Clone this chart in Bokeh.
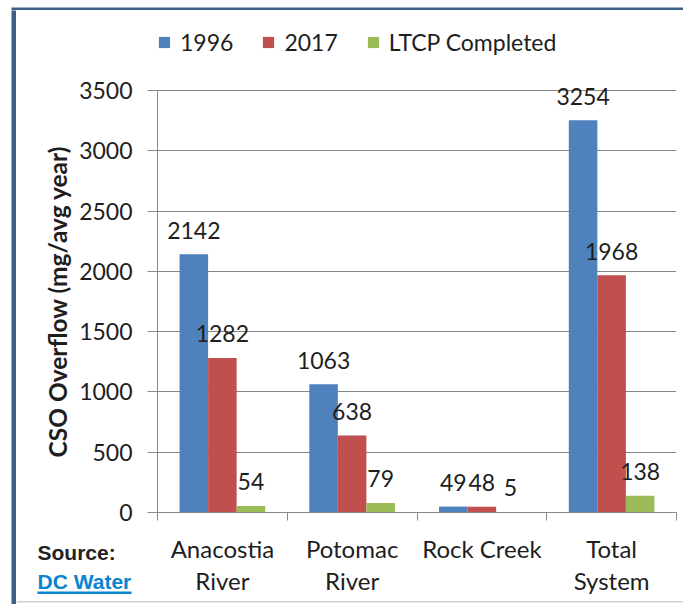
from bokeh.plotting import figure
from bokeh.models import (ColumnDataSource, LabelSet, Label, Range1d, FixedTicker,
                          Legend, LegendItem, BoxAnnotation, Spacer)
from bokeh.layouts import column, row
from bokeh.core.properties import value
from bokeh.embed import file_html
from bokeh.resources import INLINE
import math

# ---------------- data ----------------
categories = ["Anacostia River", "Potomac River", "Rock Creek", "Total System"]
cat_line1 = ["Anacostia", "Potomac", "Rock Creek", "Total"]
cat_line2 = ["River", "River", "", "System"]
series_names = ["1996", "2017", "LTCP Completed"]
v1996 = [2142, 1063, 49, 3254]
v2017 = [1282, 638, 48, 1968]
vltcp = [54, 79, 5, 138]
y_ticks = [0, 500, 1000, 1500, 2000, 2500, 3000, 3500]
y_title = "CSO Overflow (mg/avg year)"
source_label = "Source:"
source_name = "DC Water"

# ---------------- style / layout ----------------
colors = ["#4F81BD", "#C0504D", "#9BBB59"]
BORDER = "#3d5f86"
LINK = "#0a84cf"
FONT = "Lato"
TXT = "#1e1e1e"
PAGE_W, PAGE_H = 683, 604
TOP_H, MID_H = 10, 520
BOT_H = PAGE_H - TOP_H - MID_H
GAP_W, BAR_LW = 11, 5           # white gap, then blue left border
X_IN = GAP_W + BAR_LW           # 16: inner content starts here
L_W = 75 - X_IN                 # title strip
M_W = PAGE_W - 75
AX_X, FR_R = 157, 676           # y-axis line, frame right (page px)
Y0, Y_TOP = 512, 90             # page y of value 0 and of top tick
NCAT = len(categories)
YMAX = y_ticks[-1]
px_per_val = (Y0 - Y_TOP) / YMAX
px_per_cat = (FR_R - AX_X) / NCAT
BAR_W = 0.22
offsets = [-BAR_W, 0.0, BAR_W]
M_BOTTOM = TOP_H + MID_H - Y0   # space under the chart frame for the x ticks


def xd(sx):  # page px -> category data x
    return (sx - AX_X) / px_per_cat


def deco(w, h, x0, y0, xr=None):
    f = figure(width=w, height=h, output_backend="svg", toolbar_location=None,
               x_range=xr if xr is not None else Range1d(x0, x0 + w),
               y_range=Range1d(-(y0 + h), -y0), min_border=0,
               x_axis_type=None, y_axis_type=None)
    f.outline_line_color = None
    return f


# ---------------- top strip ----------------
T = deco(PAGE_W, TOP_H, 0, 0)
T.add_layout(BoxAnnotation(left=GAP_W, right=PAGE_W, top=-5, bottom=-9,
                           fill_color=BORDER, fill_alpha=1, line_color=None))

# ---------------- left border ----------------
LB = figure(width=BAR_LW, height=PAGE_H - TOP_H, output_backend="svg", toolbar_location=None,
            min_border=0, x_axis_type=None, y_axis_type=None,
            background_fill_color=BORDER, border_fill_color=BORDER)
LB.outline_line_color = None

# ---------------- title strip (frame aligned with the chart frame) ----------------
L = figure(width=L_W, height=MID_H, output_backend="svg", toolbar_location=None,
           x_range=Range1d(X_IN, 75), y_range=Range1d(-Y0, -TOP_H),
           min_border_left=0, min_border_right=0, min_border_top=0,
           min_border_bottom=M_BOTTOM, x_axis_type=None, y_axis_type=None)
L.outline_line_color = None
L.add_layout(Label(x=57, y=-301, text=y_title, angle=math.pi / 2,
                   text_align="center", text_baseline="middle", text_font=FONT,
                   text_font_style="bold", text_font_size="24.5px", text_color=TXT))

# ---------------- main chart ----------------
M = figure(width=M_W, height=MID_H, output_backend="svg", toolbar_location=None,
           x_range=Range1d(0, NCAT), y_range=Range1d(0, (Y0 - TOP_H) / px_per_val),
           min_border_left=AX_X - 75, min_border_right=PAGE_W - FR_R,
           min_border_top=0, min_border_bottom=M_BOTTOM)
M.outline_line_color = None

centers = [i + 0.5 for i in range(NCAT)]
renderers = []
for k, (vals, col) in enumerate(zip([v1996, v2017, vltcp], colors)):
    src = ColumnDataSource(dict(x=[c + offsets[k] for c in centers], top=vals,
                                lab=[str(v) for v in vals]))
    r = M.vbar(x="x", top="top", bottom=0, width=BAR_W, source=src,
               fill_color=col, line_color=None)
    renderers.append(r)
    M.add_layout(LabelSet(x="x", y="top", text="lab", source=src, y_offset=24,
                          text_align="center", text_baseline="middle",
                          text_font=value(FONT), text_font_size=value("23px"),
                          text_color=TXT))

M.xaxis.ticker = FixedTicker(ticks=[], minor_ticks=list(range(NCAT + 1)))
M.xaxis.minor_tick_out = 8
M.xaxis.minor_tick_in = 0
M.xaxis.minor_tick_line_color = "#8a8a8a"
M.xaxis.major_tick_line_color = None
M.xaxis.axis_line_color = "#8a8a8a"

M.yaxis.ticker = FixedTicker(ticks=y_ticks)
M.yaxis.bounds = (0, YMAX)
M.yaxis.major_tick_out = 10
M.yaxis.major_tick_in = 0
M.yaxis.minor_tick_line_color = None
M.yaxis.axis_line_color = "#8a8a8a"
M.yaxis.major_tick_line_color = "#8a8a8a"
M.yaxis.major_label_text_font = FONT
M.yaxis.major_label_text_font_size = "23px"
M.yaxis.major_label_text_color = TXT
M.yaxis.major_label_standoff = 15

M.xgrid.grid_line_color = None
M.ygrid.ticker = FixedTicker(ticks=y_ticks)
M.ygrid.grid_line_color = "#858585"

legend = Legend(items=[LegendItem(label=n, renderers=[r]) for n, r in zip(series_names, renderers)],
                orientation="horizontal", location=(0, Y0 - 42 - 14),
                glyph_width=14, glyph_height=14, label_standoff=9, spacing=28,
                padding=0, margin=0, border_line_color=None, background_fill_alpha=0,
                label_text_font=FONT, label_text_font_size="23px", label_text_color=TXT,
                label_text_baseline="middle", label_height=20)
M.add_layout(legend, "center")

# ---------------- bottom strip (categories, source) ----------------
B = deco(PAGE_W - X_IN, BOT_H, X_IN, TOP_H + MID_H, xr=Range1d(xd(X_IN), xd(PAGE_W)))
csrc = ColumnDataSource(dict(x=centers, l1=cat_line1, l2=cat_line2,
                             y1=[-548] * NCAT, y2=[-580] * NCAT))
for t, yc in [("l1", "y1"), ("l2", "y2")]:
    B.add_layout(LabelSet(x="x", y=yc, text=t, source=csrc,
                          text_align="center", text_baseline="middle",
                          text_font=value(FONT), text_font_size=value("24px"),
                          text_color=TXT))
B.add_layout(Label(x=xd(37), y=-552, text=source_label, text_align="left",
                   text_baseline="middle", text_font="Liberation Sans",
                   text_font_style="bold", text_font_size="21px", text_color="#222222"))
B.add_layout(Label(x=xd(37), y=-581, text=source_name, text_align="left",
                   text_baseline="middle", text_font="Liberation Sans",
                   text_font_style="bold", text_font_size="21px", text_color=LINK))
B.add_layout(BoxAnnotation(left=xd(37), right=xd(131), top=-591, bottom=-593.5,
                           fill_color=LINK, fill_alpha=1, line_color=None))
B.add_layout(BoxAnnotation(left=xd(X_IN), right=xd(PAGE_W), top=-600.5, bottom=-602,
                           fill_color="#c9d1da", fill_alpha=1, line_color=None))

layout = column(T, row(Spacer(width=GAP_W, height=PAGE_H - TOP_H), LB,
                       column(row(L, M), B)))
open("out.html", "w").write(file_html(layout, INLINE))
